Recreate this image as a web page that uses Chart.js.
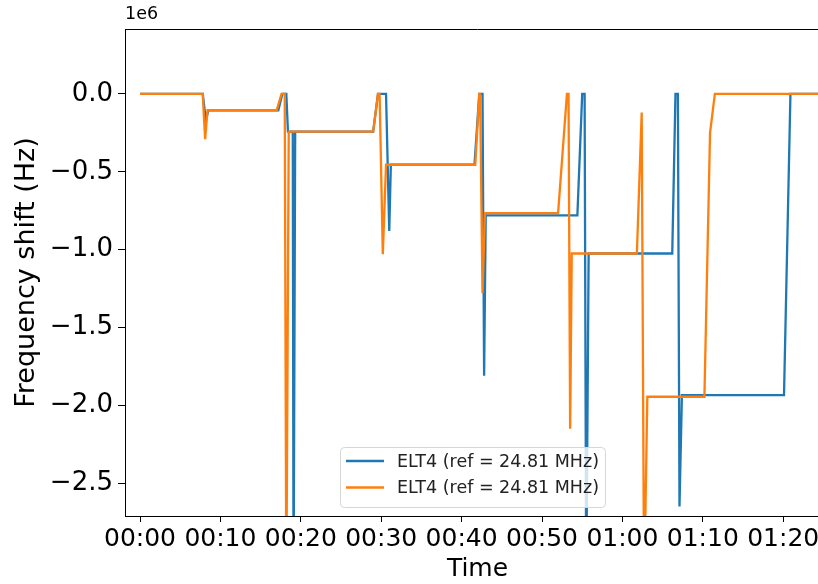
<!DOCTYPE html>
<html>
<head>
<meta charset="utf-8">
<script src="https://cdn.jsdelivr.net/npm/chart.js@4.4.1/dist/chart.umd.min.js"></script>
<style>
    html, body { margin: 0; padding: 0; background: #fff; overflow: hidden; }
    #wrap { width: 830px; height: 584px; }
</style>
</head>
<body>
<div id="wrap"><canvas id="shiftChart" width="830" height="584"></canvas></div>
<script>
// Time in minutes since start, shift in units of 1e6 Hz
const blueTimes = [0, 7.8, 8.2, 8.5, 17.2, 17.7, 18.2, 18.4, 19.0, 19.1, 19.3, 29.0, 29.6, 30.6, 31.0, 31.2,
    41.6, 42.2, 42.6, 42.8, 43.0, 54.4, 55.0, 55.3, 55.5, 55.8, 66.2, 66.6, 66.9, 67.1, 67.4, 80.1, 80.9, 88];
const blueShift = [0, 0, -0.17, -0.105, -0.105, 0, 0, -0.242, -0.242, -3.2, -0.242, -0.242, 0, 0, -0.88, -0.455,
    -0.455, 0, 0, -1.81, -0.78, -0.78, 0, 0, -3.2, -1.025, -1.025, 0, 0, -2.65, -1.935, -1.935, 0, 0];

const orangeTimes = [0, 7.8, 8.1, 8.4, 17.0, 17.6, 18.0, 18.2, 18.5, 29.0, 29.6, 29.8, 30.2, 30.6,
    41.7, 42.2, 42.3, 42.6, 42.9, 52.0, 53.1, 53.3, 53.5, 53.7, 61.8, 62.4, 62.7, 63.1, 70.2, 70.9, 71.5, 88];
const orangeShift = [0, 0, -0.29, -0.105, -0.105, 0, 0, -3.2, -0.242, -0.242, 0, 0, -1.03, -0.455,
    -0.455, 0, 0, -1.28, -0.765, -0.765, 0, 0, -2.15, -1.025, -1.025, -0.12, -3.2, -1.945, -1.945, -0.25, 0, 0];

const seriesLabels = ['ELT4 (ref = 24.81 MHz)', 'ELT4 (ref = 24.81 MHz)'];
const xTicks = [0, 10, 20, 30, 40, 50, 60, 70, 80];
const yTicks = [0, -0.5, -1.0, -1.5, -2.0, -2.5];

const FONT = 'DejaVu Sans';

function toPoints(times, values) {
    return times.map((t, i) => ({ x: t, y: values[i] }));
}

// minutes -> HH:MM
function formatTime(v) {
    const h = Math.floor(v / 60);
    const m = Math.round(v % 60);
    return String(h).padStart(2, '0') + ':' + String(m).padStart(2, '0');
}

function formatShift(v) {
    const s = Math.abs(v).toFixed(1);
    return v < -1e-9 ? '\u2212' + s : s;
}

// frame top line, offset text and the legend box inside the plot
const framePlugin = {
    id: 'framePlugin',
    afterDraw(chart) {
        const ctx = chart.ctx;
        const a = chart.chartArea;
        ctx.save();
        ctx.strokeStyle = '#000';
        ctx.lineWidth = 1;
        ctx.beginPath();
        ctx.moveTo(a.left, a.top + 0.5);
        ctx.lineTo(a.right, a.top + 0.5);
        ctx.stroke();

        ctx.fillStyle = '#000';
        ctx.font = '17.5px "' + FONT + '"';
        ctx.textAlign = 'left';
        ctx.textBaseline = 'bottom';
        ctx.fillText('1e6', a.left, a.top - 6);

        // legend
        const sets = chart.data.datasets;
        ctx.font = '17.5px "' + FONT + '"';
        let textW = 0;
        sets.forEach(ds => { textW = Math.max(textW, ctx.measureText(ds.label).width); });
        const lineLen = 38, gap = 13, pad = 6, rowH = 26.5;
        const boxW = pad + lineLen + gap + textW + pad;
        const boxH = sets.length * rowH + 7;
        const boxX = (a.left + a.right) / 2 - boxW / 2 - 5;
        const boxY = a.bottom - 9 - boxH;
        ctx.beginPath();
        ctx.roundRect(boxX + 0.5, boxY + 0.5, boxW, boxH, 4);
        ctx.fillStyle = 'rgba(255,255,255,0.8)';
        ctx.fill();
        ctx.strokeStyle = '#d6d6d6';
        ctx.stroke();
        ctx.textBaseline = 'middle';
        sets.forEach((ds, i) => {
            const cy = boxY + 14 + i * rowH;
            ctx.strokeStyle = ds.borderColor;
            ctx.lineWidth = 2.5;
            ctx.beginPath();
            ctx.moveTo(boxX + pad, cy);
            ctx.lineTo(boxX + pad + lineLen, cy);
            ctx.stroke();
            ctx.fillStyle = '#222';
            ctx.fillText(ds.label, boxX + pad + lineLen + gap, cy + 1);
        });
        ctx.restore();
    }
};

const ctx = document.getElementById('shiftChart').getContext('2d');
const shiftChart = new Chart(ctx, {
    type: 'line',
    data: {
        datasets: [{
            label: seriesLabels[0],
            data: toPoints(blueTimes, blueShift),
            borderColor: '#1f77b4',
            borderWidth: 2.3,
            pointRadius: 0,
            tension: 0,
            order: 1
        }, {
            label: seriesLabels[1],
            data: toPoints(orangeTimes, orangeShift),
            borderColor: '#ff7f0e',
            borderWidth: 2.3,
            pointRadius: 0,
            tension: 0,
            order: 0
        }]
    },
    options: {
        responsive: false,
        animation: false,
        devicePixelRatio: 1,
        layout: { padding: { top: 29, right: 0, left: 0, bottom: 0 } },
        plugins: {
            legend: { display: false },
            tooltip: { enabled: false }
        },
        scales: {
            x: {
                type: 'linear',
                min: -1.866,
                max: 85.82,
                afterBuildTicks: s => { s.ticks = xTicks.map(v => ({ value: v })); },
                afterFit: s => { s.height = 68; },
                ticks: {
                    autoSkip: false,
                    maxRotation: 0,
                    padding: 2,
                    color: '#000',
                    font: { family: FONT, size: 25 },
                    callback: v => formatTime(v)
                },
                grid: { drawOnChartArea: false, drawTicks: true, tickLength: 6, tickColor: '#000' },
                border: { display: true, color: '#000', width: 1 },
                title: {
                    display: true,
                    text: 'Time',
                    color: '#000',
                    font: { family: FONT, size: 25 },
                    padding: { top: 0, bottom: 0 }
                }
            },
            y: {
                type: 'linear',
                min: -2.711,
                max: 0.417,
                afterBuildTicks: s => { s.ticks = yTicks.map(v => ({ value: v })); },
                afterFit: s => { s.width = 125; },
                ticks: {
                    padding: 5,
                    color: '#000',
                    font: { family: FONT, size: 26 },
                    callback: v => formatShift(v)
                },
                grid: { drawOnChartArea: false, drawTicks: true, tickLength: 7, tickColor: '#000' },
                border: { display: true, color: '#000', width: 1 },
                title: {
                    display: true,
                    text: 'Frequency shift (Hz)',
                    color: '#000',
                    font: { family: FONT, size: 27 },
                    padding: { top: 11, bottom: 0 }
                }
            }
        }
    },
    plugins: [framePlugin]
});
</script>
</body>
</html>
